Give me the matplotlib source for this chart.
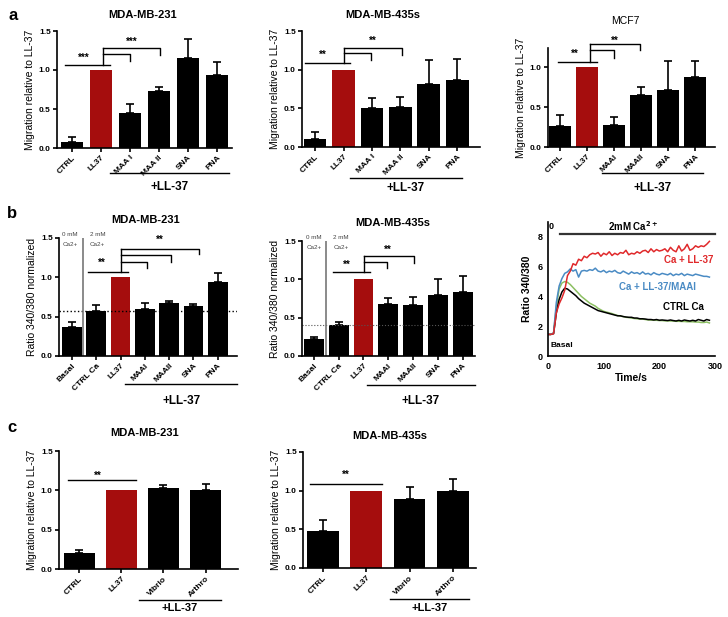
import numpy as np
import matplotlib
matplotlib.use("Agg")
import matplotlib.pyplot as plt

plt.rcParams['font.family'] = ['Liberation Sans', 'DejaVu Sans']

W, H = 728, 617
RED = '#a50d0d'

# ---------------- data ----------------
# panel a: migration assays
a1_labels = ['CTRL', 'LL37', 'MAA I', 'MAA II', 'SNA', 'PNA']
a1_mean = [0.08, 1.0, 0.45, 0.73, 1.16, 0.93]
a1_err = [0.06, 0.0, 0.12, 0.05, 0.24, 0.17]

a2_labels = ['CTRL', 'LL37', 'MAA I', 'MAA II', 'SNA', 'PNA']
a2_mean = [0.10, 1.0, 0.51, 0.52, 0.81, 0.86]
a2_err = [0.10, 0.0, 0.12, 0.13, 0.31, 0.28]

a3_labels = ['CTRL', 'LL37', 'MAAI', 'MAAII', 'SNA', 'PNA']
a3_mean = [0.26, 1.0, 0.27, 0.65, 0.71, 0.88]
a3_err = [0.14, 0.0, 0.11, 0.10, 0.37, 0.20]

# panel b: calcium ratio
b1_labels = ['Basal', 'CTRL Ca', 'LL37', 'MAAI', 'MAAII', 'SNA', 'PNA']
b1_mean = [0.37, 0.57, 1.0, 0.60, 0.67, 0.63, 0.94]
b1_err = [0.06, 0.08, 0.0, 0.08, 0.03, 0.03, 0.12]
b1_ref = 0.57

b2_labels = ['Basal', 'CTRL Ca', 'LL37', 'MAAI', 'MAAII', 'SNA', 'PNA']
b2_mean = [0.22, 0.41, 1.0, 0.68, 0.67, 0.79, 0.83]
b2_err = [0.03, 0.03, 0.0, 0.08, 0.10, 0.22, 0.21]
b2_ref = 0.41

# calcium traces (time in s, ratio 340/380)
t_sec = [0, 5, 10, 15, 20, 25, 30, 35, 40, 45, 50, 55, 60, 65, 70, 75, 80, 85, 90, 95,
         100, 105, 110, 115, 120, 125, 130, 135, 140, 145, 150, 155, 160, 165, 170, 175,
         180, 185, 190, 195, 200, 205, 210, 215, 220, 225, 230, 235, 240, 245, 250, 255,
         260, 265, 270, 275, 280, 285, 290]
ca_ll37 = [1.45, 1.45, 1.5, 2.9, 3.5, 3.9, 4.4, 5.4, 5.7, 6.2, 6.1, 6.5, 6.4, 6.7, 6.6, 6.8,
           6.9, 6.85, 6.95, 6.7, 6.9, 6.8, 7.0, 6.75, 6.9, 6.8, 6.95, 6.9, 7.1, 6.8, 6.9,
           6.85, 7.0, 6.9, 7.05, 7.1, 6.95, 7.2, 7.0, 7.15, 7.05, 7.1, 7.2, 7.0, 7.3, 7.1,
           7.0, 7.4, 7.05, 7.2, 7.5, 7.1, 7.2, 7.4, 7.3, 7.4, 7.35, 7.5, 7.7]
ca_ll37_maai = [1.45, 1.45, 1.55, 3.6, 4.7, 5.2, 5.55, 5.65, 5.85, 5.7, 5.8, 5.3, 5.7, 5.75,
                5.7, 5.8, 5.75, 5.9, 5.7, 5.65, 5.75, 5.6, 5.7, 5.65, 5.75, 5.6, 5.55, 5.7,
                5.6, 5.5, 5.65, 5.55, 5.6, 5.5, 5.65, 5.5, 5.55, 5.45, 5.6, 5.5, 5.45, 5.55,
                5.5, 5.45, 5.55, 5.4, 5.5, 5.45, 5.55, 5.4, 5.5, 5.45, 5.4, 5.5, 5.45, 5.4,
                5.35, 5.35, 5.3]
ctrl_ca = [1.45, 1.45, 1.5, 2.9, 3.8, 4.3, 4.55, 4.5, 4.35, 4.2, 4.05, 3.85, 3.7, 3.55, 3.45,
           3.35, 3.25, 3.15, 3.05, 3.0, 2.95, 2.9, 2.85, 2.8, 2.75, 2.7, 2.7, 2.65, 2.62,
           2.6, 2.6, 2.55, 2.55, 2.5, 2.5, 2.48, 2.45, 2.45, 2.42, 2.45, 2.4, 2.42, 2.4,
           2.38, 2.42, 2.38, 2.35, 2.4, 2.35, 2.42, 2.38, 2.35, 2.4, 2.35, 2.45, 2.4, 2.35,
           2.45, 2.4]
ctrl_ca2 = [1.45, 1.45, 1.55, 3.3, 4.5, 4.9, 5.0, 4.95, 4.8, 4.6, 4.4, 4.2, 4.0, 3.85, 3.7,
            3.55, 3.45, 3.35, 3.2, 3.1, 3.0, 2.95, 2.9, 2.85, 2.78, 2.72, 2.68, 2.65, 2.6,
            2.58, 2.55, 2.52, 2.5, 2.48, 2.48, 2.45, 2.42, 2.42, 2.4, 2.4, 2.38, 2.38, 2.36,
            2.36, 2.35, 2.35, 2.33, 2.33, 2.32, 2.32, 2.3, 2.3, 2.3, 2.28, 2.28, 2.25, 2.25,
            2.28, 2.22]

# panel c: migration with other lectins
c1_labels = ['CTRL', 'LL37', 'Vibrio', 'Arthro']
c1_mean = [0.20, 1.0, 1.03, 1.0]
c1_err = [0.04, 0.0, 0.04, 0.08]

c2_labels = ['CTRL', 'LL37', 'Vibrio', 'Arthro']
c2_mean = [0.48, 1.0, 0.89, 1.0]
c2_err = [0.14, 0.0, 0.16, 0.15]


# ---------------- helpers ----------------
def box(l, r, t, b):
    return [l / W, 1 - b / H, (r - l) / W, (b - t) / H]


def ftext(px, py, s, **kw):
    fig.text(px / W, 1 - py / H, s, ha='center', va='center', **kw)


def style(ax, lw=1.2):
    for s in ['top', 'right']:
        ax.spines[s].set_visible(False)
    for s in ['left', 'bottom']:
        ax.spines[s].set_linewidth(lw)
    ax.tick_params(direction='out', length=3, width=lw, labelsize=6, pad=1.5)
    for lab in ax.get_yticklabels():
        lab.set_fontweight('bold')


def bar_panel(rect, labels, mean, err, xlim, ylim, yticks, width, ylabel):
    ax = fig.add_axes(rect)
    n = len(labels)
    x = np.arange(n)
    colors = ['black'] * n
    colors[labels.index('LL37')] = RED
    keep = np.array(err) > 0
    ax.errorbar(x[keep], np.array(mean)[keep], yerr=[np.zeros(keep.sum()), np.array(err)[keep]],
                fmt='none', ecolor='black', elinewidth=1.2, capsize=3, capthick=1.2, zorder=1)
    ax.bar(x, mean, width, color=colors, zorder=2)
    ax.set_xlim(xlim)
    ax.set_ylim(ylim)
    ax.set_yticks(yticks)
    ax.set_yticklabels(['%.1f' % v for v in yticks])
    ax.set_xticks(x)
    ax.set_xticklabels(labels, rotation=45, ha='right', rotation_mode='anchor',
                       fontsize=6, fontweight='bold')
    ax.set_ylabel(ylabel, fontsize=7.5, labelpad=3)
    style(ax)
    return ax


def sig(ax, x0, x1, y, xs, ys, stars):
    ax.plot([x0, x1], [y, y], color='black', lw=1, clip_on=False)
    ax.text(xs, ys, stars, ha='center', va='center', fontsize=7, fontweight='bold')


def bracket(ax, x0, ybase, legs, xs, ys, stars):
    ytop = max(l[1] for l in legs)
    ax.plot([x0, x0], [ybase, ytop], color='black', lw=1, clip_on=False)
    for xj, yh, yend in legs:
        ax.plot([x0, xj, xj], [yh, yh, yend], color='black', lw=1, clip_on=False)
    ax.text(xs, ys, stars, ha='center', va='center', fontsize=7, fontweight='bold')


def group(ax, x0, x1, yline, ytext, fs=8.5):
    tr = ax.get_xaxis_transform()
    ax.plot([x0, x1], [yline, yline], transform=tr, color='black', lw=1, clip_on=False)
    ax.text((x0 + x1) / 2, ytext, '+LL-37', transform=tr, ha='center', va='center',
            fontsize=fs, fontweight='bold')


def ca_labels(ax, xa, xb):
    ax.axvline(0.47, ymin=0, ymax=1, color='#777777', lw=1.2)
    for xx, top in [(xa, '0 mM'), (xb, '2 mM')]:
        ax.text(xx, 1.55, top, ha='center', va='center', fontsize=4.5, color='#444444')
        ax.text(xx, 1.42, 'Ca2+', ha='center', va='center', fontsize=4.5, color='#444444')


fig = plt.figure(figsize=(W / 100, H / 100), dpi=100)

mig = 'Migration relative to LL-37'
rat = 'Ratio 340/380 normalized'
yt = [0.0, 0.5, 1.0, 1.5]

# ---- row a
ax = bar_panel(box(57, 232, 31, 148), a1_labels, a1_mean, a1_err, (-0.52, 5.52), (0, 1.5),
               yt, 0.78, mig)
sig(ax, -0.24, 1.3, 1.06, 0.4, 1.15, '***')
bracket(ax, 1.07, 1.06, [(2.0, 1.2, 1.12), (3.03, 1.28, 1.19)], 2.07, 1.36, '***')
group(ax, 1.3, 5.43, -0.214, -0.333)
ftext(143, 15, 'MDA-MB-231', fontsize=8, fontweight='bold')

ax = bar_panel(box(302, 480, 31, 147), a2_labels, a2_mean, a2_err, (-0.46, 5.8), (0, 1.5),
               yt, 0.8, mig)
sig(ax, -0.35, 1.23, 1.09, 0.28, 1.19, '**')
bracket(ax, 1.0, 1.09, [(1.96, 1.21, 1.13), (3.05, 1.28, 1.19)], 2.03, 1.37, '**')
group(ax, 1.23, 5.16, -0.267, -0.353)
ftext(383, 15, 'MDA-MB-435s', fontsize=8, fontweight='bold')

ax = bar_panel(box(548, 715, 48, 147), a3_labels, a3_mean, a3_err, (-0.44, 5.74), (0, 1.24),
               [0.0, 0.5, 1.0], 0.8, mig)
sig(ax, -0.07, 1.37, 1.07, 0.55, 1.17, '**')
bracket(ax, 1.1, 1.07, [(2.0, 1.22, 1.12), (2.96, 1.29, 1.21)], 2.04, 1.33, '**')
group(ax, 1.55, 5.3, -0.263, -0.414)
ftext(625, 21, 'MCF7', fontsize=7.5)

# ---- row b
ax = bar_panel(box(59, 237, 238, 356), b1_labels, b1_mean, b1_err, (-0.53, 6.79), (0, 1.5),
               yt, 0.8, rat)
ax.axhline(b1_ref, color='black', ls=':', lw=1)
ca_labels(ax, -0.08, 1.05)
sig(ax, 0.66, 2.3, 1.07, 1.22, 1.18, '**')
bracket(ax, 2.04, 1.07, [(3.1, 1.2, 1.12), (4.07, 1.29, 1.19), (5.23, 1.36, 1.3)],
        3.62, 1.48, '**')
group(ax, 2.2, 6.8, -0.237, -0.38)
ftext(146, 220, 'MDA-MB-231', fontsize=8, fontweight='bold')

ax = bar_panel(box(302, 475, 241, 356), b2_labels, b2_mean, b2_err, (-0.48, 6.5), (0, 1.5),
               yt, 0.8, rat)
ax.axhline(b2_ref, color='#555555', ls=':', lw=0.8)
ca_labels(ax, 0.0, 1.09)
sig(ax, 0.77, 2.26, 1.1, 1.32, 1.19, '**')
bracket(ax, 2.02, 1.1, [(2.96, 1.22, 1.15), (4.03, 1.3, 1.21)], 2.98, 1.38, '**')
group(ax, 2.14, 6.5, -0.252, -0.39)
ftext(393, 223, 'MDA-MB-435s', fontsize=8, fontweight='bold')

# calcium time course
ax = fig.add_axes(box(548, 715, 222, 356))
ax.plot(t_sec, ctrl_ca2, color='#8dc063', lw=1.1)
ax.plot(t_sec, ctrl_ca, color='black', lw=1.1)
ax.plot(t_sec, ca_ll37_maai, color='#4a8bc4', lw=1.1)
ax.plot(t_sec, ca_ll37, color='#e0292b', lw=1.1)
ax.set_xlim(0, 300)
ax.set_ylim(0, 9)
ax.set_xticks([0, 100, 200, 300])
ax.set_yticks([0, 2, 4, 6, 8])
style(ax)
for lab in ax.get_xticklabels():
    lab.set_fontweight('bold')
ax.tick_params(length=0, labelsize=6.5, pad=4)
ax.set_xlabel('Time/s', fontsize=7.5, fontweight='bold', labelpad=2)
ax.set_ylabel('Ratio 340/380', fontsize=7.5, fontweight='bold', labelpad=4)
ax.plot([21, 300], [8.2, 8.2], color='#333333', lw=1.6, clip_on=False)
ax.text(2, 8.7, '0', fontsize=6.5, fontweight='bold', va='center')
ax.text(153, 8.72, r'2mM Ca$^{\mathbf{2+}}$', fontsize=7, fontweight='bold',
        ha='center', va='center')
ax.text(252, 6.45, 'Ca + LL-37', color='#e0292b', fontsize=7, fontweight='bold',
        ha='center', va='center')
ax.text(196, 4.66, 'Ca + LL-37/MAAI', color='#4a8bc4', fontsize=7, fontweight='bold',
        ha='center', va='center')
ax.text(244, 3.27, 'CTRL Ca', color='black', fontsize=7, fontweight='bold',
        ha='center', va='center')
ax.text(5, 0.7, 'Basal', fontsize=6, fontweight='bold', va='center')

# ---- row c
ax = bar_panel(box(59, 238, 451, 569), c1_labels, c1_mean, c1_err, (-0.48, 3.77), (0, 1.5),
               yt, 0.73, mig)
sig(ax, -0.26, 1.36, 1.13, 0.45, 1.19, '**')
group(ax, 1.43, 3.36, -0.263, -0.33, fs=8)
ftext(145, 433, 'MDA-MB-231', fontsize=8, fontweight='bold')

ax = bar_panel(box(303, 476, 452, 568), c2_labels, c2_mean, c2_err, (-0.46, 3.53), (0, 1.5),
               yt, 0.73, mig)
sig(ax, -0.3, 1.36, 1.09, 0.53, 1.21, '**')
group(ax, 1.55, 3.37, -0.267, -0.345, fs=8)
ftext(390, 436, 'MDA-MB-435s', fontsize=8, fontweight='bold')

# panel letters
for letter, px, py in [('a', 13, 15), ('b', 12, 213), ('c', 12, 427)]:
    ftext(px, py, letter, fontsize=12, fontweight='bold')

fig.savefig('out.png', dpi=100, facecolor='white')
